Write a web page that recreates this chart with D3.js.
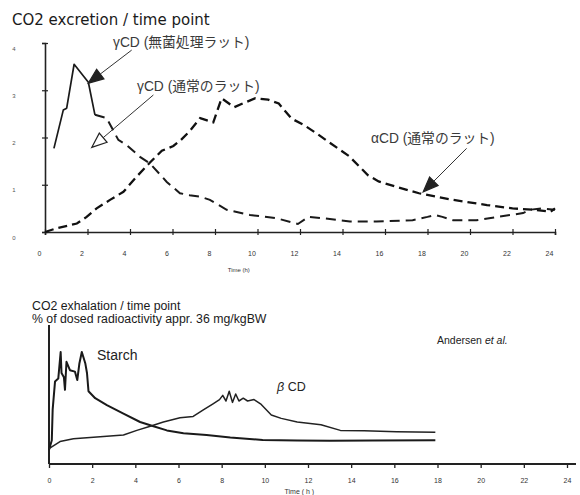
<!DOCTYPE html>
<html>
<head>
<meta charset="utf-8">
<script src="https://cdn.jsdelivr.net/npm/d3@7"></script>
<style>
  html, body { margin: 0; padding: 0; background: #fff; }
  svg { display: block; }
  text { font-family: "Liberation Sans", Arial, sans-serif; fill: #1a1a1a; }
</style>
</head>
<body>
<svg id="chart" width="580" height="495"></svg>
<script>
// ---------- upper panel: CO2 excretion per time point ----------
const hourTicks = [0, 2, 4, 6, 8, 10, 12, 14, 16, 18, 20, 22, 24];
const excretionTicks = [0, 1, 2, 3, 4];

// γCD, germ-free rats (solid at first, dashed afterwards)
const gammaGermFreeHours  = [0.42, 0.86, 1.02, 1.37, 2.04, 2.35, 2.9, 3.45, 3.84, 4.47, 4.94, 5.73, 6.35, 6.8, 7.3, 7.76, 8.55, 9.65, 10.9, 11.9, 12.4, 13.1, 14.35, 15.6, 17.3, 18.0, 18.35, 18.7, 19.2, 20.3, 20.9, 21.9, 22.5, 22.8, 23.4, 24];
const gammaGermFreeValues = [1.77, 2.58, 2.62, 3.55, 3.17, 2.48, 2.41, 1.95, 1.84, 1.59, 1.45, 1.06, 0.82, 0.78, 0.75, 0.68, 0.47, 0.36, 0.29, 0.17, 0.32, 0.29, 0.22, 0.22, 0.25, 0.32, 0.36, 0.32, 0.25, 0.25, 0.29, 0.36, 0.40, 0.47, 0.50, 0.47];
const gammaSolidUntil = 2.35;

// αCD, conventional rats
const alphaHours  = [0, 0.55, 1.5, 1.96, 2.43, 3.06, 3.69, 4.31, 4.94, 5.5, 6.04, 6.4, 6.82, 7.3, 7.92, 8.31, 8.9, 9.3, 9.9, 10.5, 11.0, 11.6, 12.2, 12.8, 13.3, 14.3, 15.2, 15.7, 16.5, 17.6, 19.2, 20.8, 22.0, 23.0, 23.8, 24];
const alphaValues = [0, 0.08, 0.18, 0.32, 0.5, 0.68, 0.85, 1.17, 1.47, 1.72, 1.82, 1.95, 2.14, 2.41, 2.32, 2.83, 2.64, 2.72, 2.83, 2.8, 2.72, 2.4, 2.26, 2.08, 1.92, 1.61, 1.2, 1.07, 0.96, 0.82, 0.68, 0.57, 0.5, 0.47, 0.43, 0.5];

// ---------- lower panel: CO2 exhalation, % of dosed radioactivity ----------
const starchHours  = [0, 0.13, 0.17, 0.28, 0.43, 0.54, 0.58, 0.69, 0.74, 0.81, 0.97, 1.2, 1.31, 1.41, 1.52, 1.68, 1.76, 1.83, 2.14, 2.68, 3.45, 4.22, 4.84, 5.46, 6.23, 7.3, 8.4, 9.9, 11.5, 13.0, 15.0, 17.9];
const starchValues = [1.0, 1.7, 3.9, 5.9, 6.1, 8.0, 6.5, 6.2, 5.3, 7.3, 6.7, 6.6, 6.0, 7.2, 8.0, 7.2, 6.5, 5.2, 4.7, 4.2, 3.6, 3.0, 2.7, 2.4, 2.2, 2.07, 1.9, 1.72, 1.68, 1.66, 1.68, 1.7];

const betaHours  = [0, 0.51, 1.13, 2.37, 3.45, 4.07, 4.69, 5.3, 6.07, 6.68, 7.15, 7.6, 7.9, 8.05, 8.2, 8.35, 8.5, 8.65, 8.8, 9.0, 9.2, 9.5, 9.8, 10.3, 10.76, 11.5, 12.6, 13.5, 14.6, 16.1, 17.9];
const betaValues = [1.1, 1.6, 1.8, 1.95, 2.07, 2.4, 2.7, 3.0, 3.3, 3.4, 3.86, 4.3, 4.6, 4.9, 4.5, 5.2, 4.4, 5.0, 4.5, 4.7, 4.5, 4.6, 4.3, 3.5, 3.26, 3.0, 2.8, 2.4, 2.38, 2.3, 2.26];

const svg = d3.select("#chart");
svg.append("rect").attr("width", 580).attr("height", 495).attr("fill", "#fff");

const zip = (xs, ys) => xs.map((t, i) => ({ t, v: ys[i] }));

// ================= upper panel =================
const xTop = d3.scaleLinear().domain([0, 24]).range([45, 555]);
const yTop = d3.scaleLinear().domain([0, 4]).range([232, 43]);
const upper = svg.append("g");

upper.append("text")
  .attr("x", 12).attr("y", 25)
  .style("font-family", "'DejaVu Sans', sans-serif")
  .style("font-size", "15px")
  .text("CO2 excretion / time point");

// x axis with ticks crossing the line
const gxTop = upper.append("g")
  .attr("transform", `translate(0,${yTop(0)})`)
  .call(d3.axisBottom(xTop).tickValues(hourTicks).tickFormat(d3.format("d")).tickSizeOuter(0).tickSize(3).tickPadding(0));
gxTop.select(".domain").attr("stroke", "#222").attr("stroke-width", 1.6);
gxTop.selectAll(".tick line").attr("y1", -3).attr("y2", 3).attr("stroke", "#222").attr("stroke-width", 1.2);
gxTop.selectAll(".tick text")
  .attr("y", 19).attr("dx", -6)
  .style("font-size", "7px").style("fill", "#333");

upper.append("text")
  .attr("x", xTop(8.6)).attr("y", 272)
  .style("font-size", "6px").style("fill", "#333")
  .text("Time (h)");

// y axis
const gyTop = upper.append("g")
  .attr("transform", `translate(${xTop(0)},0)`)
  .call(d3.axisLeft(yTop).tickValues(excretionTicks).tickFormat(d3.format("d")).tickSizeOuter(0).tickSize(3).tickPadding(0));
gyTop.select(".domain").attr("stroke", "#222").attr("stroke-width", 1.6);
gyTop.selectAll(".tick line").attr("x1", -3).attr("x2", 3).attr("stroke", "#222").attr("stroke-width", 1.2);
gyTop.selectAll(".tick text")
  .attr("x", -31).attr("dy", 7)
  .style("font-size", "6px").style("fill", "#555")
  .style("text-anchor", "middle");

const lineTop = d3.line().x(d => xTop(d.t)).y(d => yTop(d.v));

const gammaPts = zip(gammaGermFreeHours, gammaGermFreeValues);
upper.append("path")
  .attr("d", lineTop(gammaPts.filter(d => d.t <= gammaSolidUntil)))
  .attr("fill", "none").attr("stroke", "#1a1a1a").attr("stroke-width", 1.7)
  .attr("stroke-linejoin", "round");
upper.append("path")
  .attr("d", lineTop(gammaPts.filter(d => d.t >= gammaSolidUntil)))
  .attr("fill", "none").attr("stroke", "#1a1a1a").attr("stroke-width", 2)
  .attr("stroke-dasharray", "10,6");

upper.append("path")
  .attr("d", lineTop(zip(alphaHours, alphaValues)))
  .attr("fill", "none").attr("stroke", "#111").attr("stroke-width", 2.3)
  .attr("stroke-dasharray", "9,5");

// annotation arrows: tail and tip given in data units
function arrow(g, tail, tip, filled) {
  const x0 = xTop(tail[0]), y0 = yTop(tail[1]);
  const x1 = xTop(tip[0]), y1 = yTop(tip[1]);
  const len = Math.hypot(x1 - x0, y1 - y0);
  const ux = (x1 - x0) / len, uy = (y1 - y0) / len;
  const L = 15, W = 6;
  const bx = x1 - ux * L, by = y1 - uy * L;
  g.append("line")
    .attr("x1", x0).attr("y1", y0).attr("x2", bx).attr("y2", by)
    .attr("stroke", "#333").attr("stroke-width", 1);
  g.append("path")
    .attr("d", `M${x1},${y1}L${bx - uy * W},${by + ux * W}L${bx + uy * W},${by - ux * W}Z`)
    .attr("fill", filled ? "#222" : "#fff")
    .attr("stroke", "#222").attr("stroke-width", 1.2).attr("stroke-linejoin", "miter");
}

const labelStyle = sel => sel
  .style("font-family", "'Liberation Sans', 'Noto Sans CJK JP', sans-serif")
  .style("font-size", "13.8px").style("fill", "#3a3a3a");

upper.append("text").attr("x", xTop(3.2)).attr("y", yTop(3.92)).call(labelStyle).text("γCD (無菌処理ラット)");
upper.append("text").attr("x", xTop(4.33)).attr("y", yTop(2.98)).call(labelStyle).text("γCD (通常のラット)");
upper.append("text").attr("x", xTop(15.34)).attr("y", yTop(1.88)).call(labelStyle).text("αCD (通常のラット)");

arrow(upper, [4.08, 3.85], [2.04, 3.15], true);
arrow(upper, [5.1, 2.9], [2.2, 1.79], false);
arrow(upper, [19.84, 1.77], [17.8, 0.85], true);

// ================= lower panel =================
const xBot = d3.scaleLinear().domain([0, 24]).range([49, 567]);
const yBot = d3.scaleLinear().domain([0, 10]).range([464, 324]);
const lower = svg.append("g");

lower.append("text").attr("x", 32).attr("y", 310).style("font-size", "12.3px").text("CO2 exhalation / time point");
lower.append("text").attr("x", 32).attr("y", 323).style("font-size", "12.3px").text("% of dosed radioactivity appr. 36 mg/kgBW");

const gxBot = lower.append("g")
  .attr("transform", `translate(0,${yBot(0)})`)
  .call(d3.axisBottom(xBot).tickValues(hourTicks).tickFormat(d3.format("d")).tickSizeOuter(0).tickSize(4).tickPadding(10));
gxBot.select(".domain").attr("d", `M${xBot(0)},0H576`).attr("stroke", "#222").attr("stroke-width", 2);
gxBot.selectAll(".tick line").attr("stroke", "#222").attr("stroke-width", 1.3);
gxBot.selectAll(".tick text").style("font-size", "7px").style("fill", "#333");

lower.append("text")
  .attr("x", xBot(11.6)).attr("y", 494)
  .style("font-size", "7px").style("fill", "#333")
  .style("text-anchor", "middle")
  .text("Time ( h )");

lower.append("line")
  .attr("x1", xBot(0)).attr("x2", xBot(0))
  .attr("y1", yBot(0)).attr("y2", 325)
  .attr("stroke", "#222").attr("stroke-width", 2);

const lineBot = d3.line().x(d => xBot(d.t)).y(d => yBot(d.v));
lower.append("path")
  .attr("d", lineBot(zip(starchHours, starchValues)))
  .attr("fill", "none").attr("stroke", "#1a1a1a").attr("stroke-width", 2)
  .attr("stroke-linejoin", "round");
lower.append("path")
  .attr("d", lineBot(zip(betaHours, betaValues)))
  .attr("fill", "none").attr("stroke", "#222").attr("stroke-width", 1.5)
  .attr("stroke-linejoin", "round");

lower.append("text").attr("x", 97).attr("y", 360).style("font-size", "14px").style("fill", "#222").text("Starch");
const betaLabel = lower.append("text").attr("x", 277).attr("y", 391).style("font-size", "12.5px").style("fill", "#222");
betaLabel.append("tspan").style("font-style", "italic").text("β ");
betaLabel.append("tspan").text("CD");

const cite = lower.append("text").attr("x", 437).attr("y", 344).style("font-size", "10.5px").style("fill", "#222");
cite.append("tspan").text("Andersen ");
cite.append("tspan").style("font-style", "italic").text("et al.");
</script>
</body>
</html>
